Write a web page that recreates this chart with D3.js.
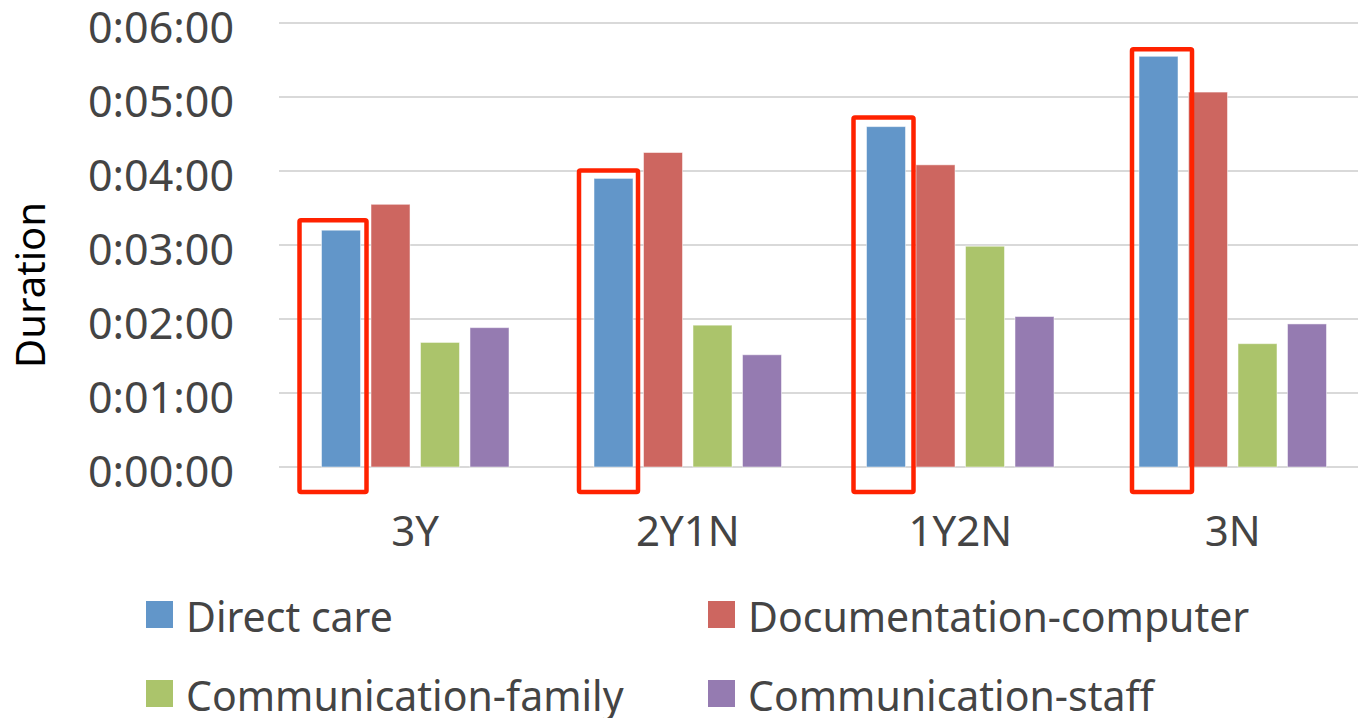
<!DOCTYPE html>
<html>
<head>
<meta charset="utf-8">
<script src="https://cdn.jsdelivr.net/npm/d3@7"></script>
<style>
  html, body { margin: 0; padding: 0; background: #ffffff; }
  svg { display: block; }
</style>
</head>
<body>
<svg id="chart" width="1358" height="718"></svg>
<script>
// ---- data (durations in seconds) ----
const categories = ["3Y", "2Y1N", "1Y2N", "3N"];
const seriesNames = ["Direct care", "Documentation-computer", "Communication-family", "Communication-staff"];
const directCare = [192, 234, 276, 333];
const documentationComputer = [213, 255, 245, 304];
const communicationFamily = [101, 115, 179, 100];
const communicationStaff = [113, 91, 122, 116];
const yTicks = [0, 60, 120, 180, 240, 300, 360];
const yTickLabels = ["0:00:00", "0:01:00", "0:02:00", "0:03:00", "0:04:00", "0:05:00", "0:06:00"];
const highlighted = "Direct care";

const seriesValues = [directCare, documentationComputer, communicationFamily, communicationStaff];
const colors = ["#6296C9", "#CD6660", "#ABC46B", "#957BB1"];

const svg = d3.select("#chart");
const font = "'Noto Sans', 'Open Sans', sans-serif";

const x0 = d3.scaleBand().domain(categories).range([279, 1369]).paddingInner(0).paddingOuter(0);
const x1 = d3.scaleBand().domain(seriesNames).range([42.5, 230]).paddingInner(0.212).paddingOuter(0);
const y = d3.scaleLinear().domain([0, 360]).range([467, 23]);

// gridlines
svg.append("g").selectAll("line").data(yTicks).join("line")
  .attr("x1", 279).attr("x2", 1358)
  .attr("y1", d => y(d)).attr("y2", d => y(d))
  .attr("stroke", "#d9d9d9").attr("stroke-width", 2);

// y tick labels
svg.append("g").selectAll("text").data(yTicks).join("text")
  .attr("x", 234).attr("y", d => y(d) + 20)
  .attr("text-anchor", "end")
  .attr("font-family", font).attr("font-size", 43).attr("fill", "#444444")
  .text((d, i) => yTickLabels[i]);

// y axis title
svg.append("text")
  .attr("transform", "translate(45,285) rotate(-90)")
  .attr("text-anchor", "middle")
  .attr("font-family", font).attr("font-size", 40).attr("fill", "#000000")
  .text("Duration");

// bars
const rows = [];
categories.forEach((c, ci) => {
  seriesNames.forEach((s, si) => rows.push({ cat: c, ser: s, si: si, v: seriesValues[si][ci] }));
});
svg.append("g").selectAll("rect").data(rows).join("rect")
  .attr("x", d => x0(d.cat) + x1(d.ser))
  .attr("y", d => y(d.v))
  .attr("width", x1.bandwidth())
  .attr("height", d => y(0) - y(d.v))
  .attr("fill", d => colors[d.si])
  .attr("stroke", "rgba(255,255,255,0.5)").attr("stroke-width", 1);

// category labels
svg.append("g").selectAll("text").data(categories).join("text")
  .attr("x", d => x0(d) + x0.bandwidth() / 2)
  .attr("y", 546)
  .attr("text-anchor", "middle")
  .attr("font-family", font).attr("font-size", 42).attr("fill", "#444444")
  .text(d => d);

// red highlight boxes around the "Direct care" bars (hand-drawn style offsets)
const boxPadLeft = [22, 15, 13, 7];
const boxPadRight = [6, 5, 8, 14];
const boxPadTop = [10, 8, 9, 7];
svg.append("g").selectAll("rect").data(categories).join("rect")
  .attr("x", (d, i) => x0(d) + x1(highlighted) - boxPadLeft[i])
  .attr("y", (d, i) => y(directCare[i]) - boxPadTop[i])
  .attr("width", (d, i) => x1.bandwidth() + boxPadLeft[i] + boxPadRight[i])
  .attr("height", (d, i) => y(0) + 25 - (y(directCare[i]) - boxPadTop[i]))
  .attr("fill", "none")
  .attr("stroke", "#FF2200").attr("stroke-width", 4.5)
  .attr("rx", 1.5);

// legend
const legendPos = [[146, 601], [708, 601], [146, 680], [708, 680]];
const lg = svg.append("g").selectAll("g").data(seriesNames).join("g")
  .attr("transform", (d, i) => `translate(${legendPos[i][0]},${legendPos[i][1]})`);
lg.append("rect").attr("width", 27).attr("height", 27).attr("fill", (d, i) => colors[i]);
lg.append("text")
  .attr("x", 40).attr("y", 31)
  .attr("font-family", font).attr("font-size", 41).attr("fill", "#444444")
  .text(d => d);
</script>
</body>
</html>
